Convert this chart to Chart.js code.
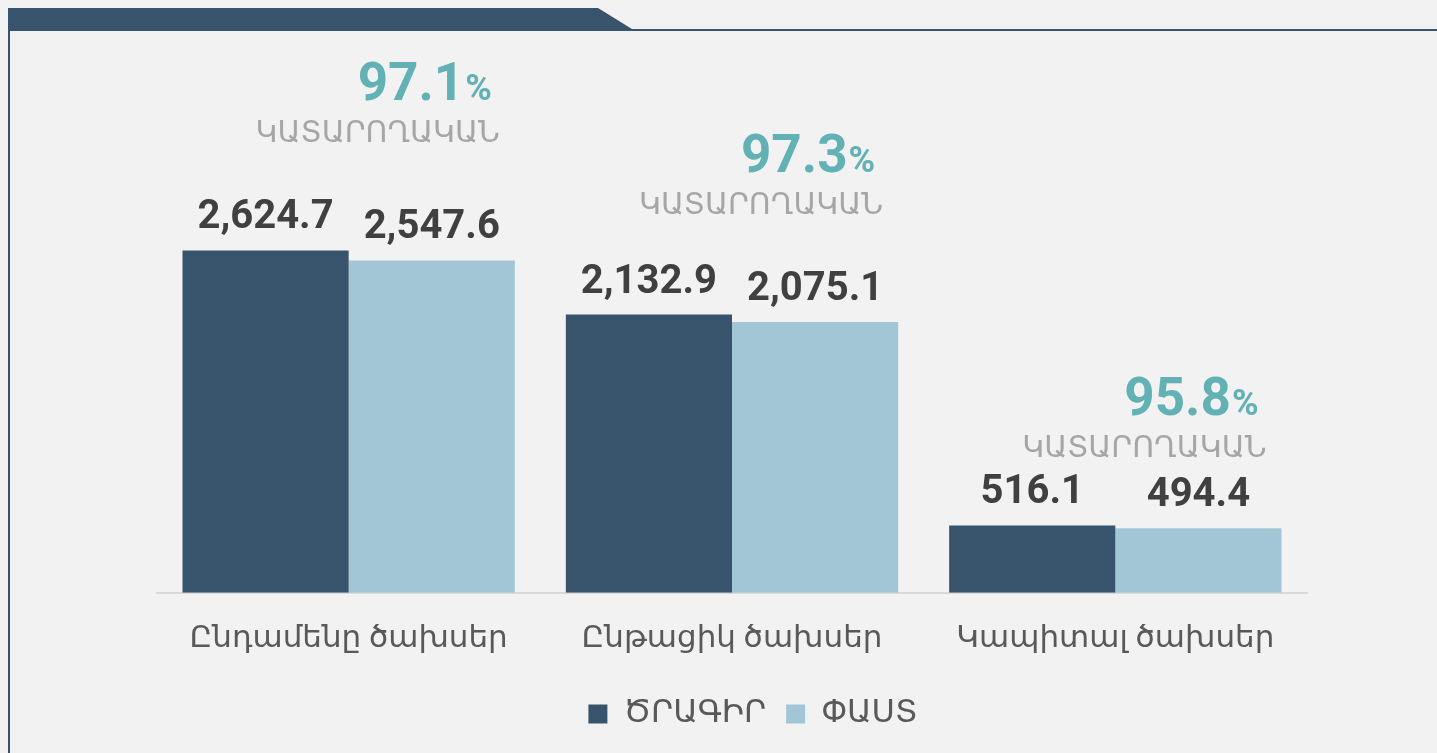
<!DOCTYPE html>
<html>
<head>
<meta charset="utf-8">
<script src="https://cdn.jsdelivr.net/npm/chart.js@4.4.1/dist/chart.umd.min.js"></script>
<style>
    html, body { margin: 0; padding: 0; background: #f2f2f2; }
    #wrap { position: relative; width: 1437px; height: 753px; }
</style>
</head>
<body>
<div id="wrap"><canvas id="budgetChart" width="1437" height="753"></canvas></div>
<script>
// Chart data (mln AMD)
const categories = ['Ընդամենը ծախսեր', 'Ընթացիկ ծախսեր', 'Կապիտալ ծախսեր'];
const seriesNames = ['ԾՐԱԳԻՐ', 'ՓԱՍՏ'];
const planValues = [2624.7, 2132.9, 516.1];
const factValues = [2547.6, 2075.1, 494.4];
const execPercent = [97.1, 97.3, 95.8];
const execLabel = 'ԿԱՏԱՐՈՂԱԿԱՆ';

const DARK = '#38546d';
const LIGHT = '#a3c6d6';
const TEAL = '#62b1b5';
const FONT = "Roboto, 'DejaVu Sans', sans-serif";

// how far above the taller bar each "executed" note sits
const NOTE_LIFT = [150, 143, 110];

// frame around the chart (tab at top-left + left rule)
const framePlugin = {
    id: 'frame',
    beforeDraw(chart) {
        const ctx = chart.ctx;
        ctx.save();
        ctx.fillStyle = '#f2f2f2';
        ctx.fillRect(0, 0, chart.width, chart.height);
        ctx.fillStyle = DARK;
        ctx.beginPath();
        ctx.moveTo(8, 8);
        ctx.lineTo(598, 8);
        ctx.lineTo(632, 29);
        ctx.lineTo(chart.width, 29);
        ctx.lineTo(chart.width, 31);
        ctx.lineTo(10, 31);
        ctx.lineTo(10, chart.height);
        ctx.lineTo(8, chart.height);
        ctx.closePath();
        ctx.fill();
        ctx.restore();
    }
};

// nudge the legend a little to the right, as in the source
const legendShift = {
    id: 'legendShift',
    afterLayout(chart) {
        if (chart.legend) {
            chart.legend.left += 21;
            chart.legend.right += 21;
        }
    }
};

// values over the bars and the execution notes
const labelPlugin = {
    id: 'barLabels',
    afterDatasetsDraw(chart) {
        const ctx = chart.ctx;
        ctx.save();
        ctx.fillStyle = '#404040';
        ctx.font = 'bold 40px ' + FONT;
        ctx.textAlign = 'center';
        ctx.textBaseline = 'alphabetic';
        chart.data.datasets.forEach((ds, di) => {
            chart.getDatasetMeta(di).data.forEach((bar, i) => {
                const txt = ds.data[i].toLocaleString('en-US', { minimumFractionDigits: 1 });
                ctx.fillText(txt, bar.x, bar.y - 22);
            });
        });

        const planBars = chart.getDatasetMeta(0).data;
        const factBars = chart.getDatasetMeta(1).data;
        execPercent.forEach((p, i) => {
            const right = factBars[i].x + factBars[i].width / 2;
            const top = Math.min(planBars[i].y, factBars[i].y);
            const base = top - NOTE_LIFT[i];

            ctx.fillStyle = TEAL;
            ctx.textAlign = 'right';
            ctx.font = 'bold 36px ' + FONT;
            const pctRight = right - 23;
            ctx.fillText('%', pctRight, base);
            const pw = ctx.measureText('%').width;
            ctx.font = 'bold 53px ' + FONT;
            ctx.fillText(p.toFixed(1), pctRight - pw - 1, base);

            ctx.fillStyle = '#a6a6a6';
            ctx.font = '400 30px ' + FONT;
            ctx.fillText(execLabel, right - 15, base + 42);
        });
        ctx.restore();
    }
};

new Chart(document.getElementById('budgetChart'), {
    type: 'bar',
    data: {
        labels: categories,
        datasets: [
            { label: seriesNames[0], data: planValues, backgroundColor: DARK, borderWidth: 0 },
            { label: seriesNames[1], data: factValues, backgroundColor: LIGHT, borderWidth: 0 }
        ]
    },
    options: {
        responsive: false,
        animation: false,
        categoryPercentage: 0.867,
        barPercentage: 1.0,
        layout: { padding: { left: 157, right: 130, top: 71, bottom: 13 } },
        scales: {
            x: {
                grid: { display: false },
                border: { display: true, color: '#d9d9d9', width: 2 },
                ticks: { color: '#595959', font: { size: 31, family: FONT }, padding: 20 }
            },
            y: { display: false, min: 0, max: 4000 }
        },
        plugins: {
            legend: {
                position: 'bottom',
                labels: {
                    color: '#595959',
                    font: { size: 32, family: FONT },
                    boxWidth: 19,
                    boxHeight: 19,
                    padding: 20
                }
            },
            tooltip: { enabled: false }
        }
    },
    plugins: [framePlugin, legendShift, labelPlugin]
});
</script>
</body>
</html>
